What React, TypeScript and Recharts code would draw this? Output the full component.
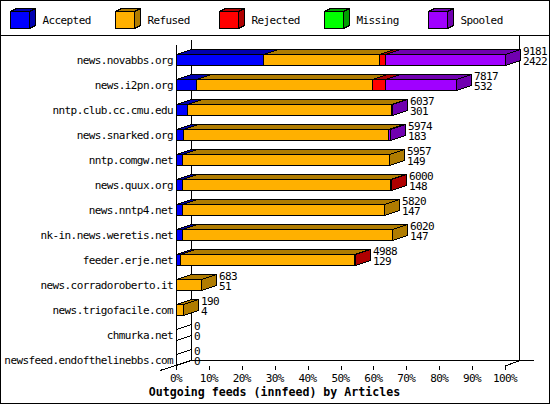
import React from 'react';
import { BarChart, Bar, XAxis, YAxis, LabelList } from 'recharts';

// ---------- data ----------
const hosts = [
  'news.novabbs.org',
  'news.i2pn.org',
  'nntp.club.cc.cmu.edu',
  'news.snarked.org',
  'nntp.comgw.net',
  'news.quux.org',
  'news.nntp4.net',
  'nk-in.news.weretis.net',
  'feeder.erje.net',
  'news.corradoroberto.it',
  'news.trigofacile.com',
  'chmurka.net',
  'newsfeed.endofthelinebbs.com',
];
const acceptedPct = [26.3, 6.0, 3.2, 2.0, 1.7, 1.7, 1.7, 1.7, 1.3, 0, 0, 0, 0];
const refusedPct = [35.5, 53.5, 62.1, 62.3, 63.1, 63.4, 61.6, 64.0, 52.8, 7.6, 2.0, 0, 0];
const rejectedPct = [1.8, 4.1, 0, 0, 0, 0.3, 0, 0, 0.4, 0, 0, 0, 0];
const missingPct = [0, 0, 0, 0, 0, 0, 0, 0, 0, 0, 0, 0, 0];
const spooledPct = [36.4, 21.5, 0.4, 0.7, 0, 0, 0, 0, 0, 0, 0, 0, 0];
const offeredCount = [9181, 7817, 6037, 5974, 5957, 6000, 5820, 6020, 4988, 683, 190, 0, 0];
const acceptedCount = [2422, 532, 301, 183, 149, 148, 147, 147, 129, 51, 4, 0, 0];
const xTicks = [0, 10, 20, 30, 40, 50, 60, 70, 80, 90, 100];
const seriesNames = ['Accepted', 'Refused', 'Rejected', 'Missing', 'Spooled'];
const seriesKeys = ['accepted', 'refused', 'rejected', 'missing', 'spooled'];
const seriesColors = ['#0000ff', '#ffb000', '#ff0000', '#00ff00', '#a000ff'];
const seriesDark = ['#0000b0', '#b07c00', '#b00000', '#00a000', '#7000b0'];
const title = 'Outgoing feeds (innfeed) by Articles';

const data = hosts.map((name, i) => ({
  name,
  accepted: acceptedPct[i],
  refused: refusedPct[i],
  rejected: rejectedPct[i],
  missing: missingPct[i],
  spooled: spooledPct[i],
}));

// ---------- layout constants ----------
const W = 550;
const H = 405;
const PLOT_LEFT = 176;
const PLOT_RIGHT = 505;
const DX = 15;
const DY = 5;
const FLOOR_Y = 366;
const BACK_TOP = 40;
const FONT = "'DejaVu Sans Mono', 'Liberation Mono', monospace";
const LS = -0.6;

const Box3D = (props: any) => {
  const { x, y, width, height, fill, dark, payload, seriesIndex } = props;
  if (x == null || y == null) return null;
  const value = payload ? Number(payload[seriesKeys[seriesIndex]]) || 0 : 0;
  const total = payload ? seriesKeys.reduce((s, k) => s + (Number(payload[k]) || 0), 0) : 0;
  const x0 = Math.round(x) + 0.5;
  const y0 = Math.round(y) + 0.5;
  const y1 = Math.round(y + height) - 0.5;
  if (value <= 0) {
    if (total > 0 || seriesIndex !== 0) return null;
    // empty row: only the outline of the zero-length block
    return (
      <g shapeRendering="crispEdges" stroke="#000" strokeWidth={1} fill="none">
        <line x1={x0} y1={y0} x2={x0 + DX} y2={y0 - DY} />
        <line x1={x0} y1={y1} x2={x0 + DX} y2={y1 - DY} />
      </g>
    );
  }
  const x1 = Math.round(x + Math.max(0, width || 0)) + 0.5;
  return (
    <g shapeRendering="crispEdges">
      <rect x={x0} y={y0} width={x1 - x0} height={y1 - y0} fill={fill} stroke="#000" strokeWidth={1} />
      <polygon
        points={`${x0},${y0} ${x0 + DX},${y0 - DY} ${x1 + DX},${y0 - DY} ${x1},${y0}`}
        fill={dark}
        stroke="#000"
        strokeWidth={1}
      />
      <polygon
        points={`${x1},${y0} ${x1 + DX},${y0 - DY} ${x1 + DX},${y1 - DY} ${x1},${y1}`}
        fill={dark}
        stroke="#000"
        strokeWidth={1}
      />
    </g>
  );
};

const YTick = (props: any) => {
  const { x, y, payload } = props;
  return (
    <text x={x} y={y + 4} textAnchor="end" fontFamily={FONT} fontSize={11} letterSpacing={LS} fill="#000">
      {payload.value}
    </text>
  );
};

const XTick = (props: any) => {
  const { x, payload } = props;
  const xr = Math.round(x) + 0.5;
  return (
    <g>
      <line x1={xr} y1={FLOOR_Y} x2={xr} y2={FLOOR_Y + 4} stroke="#000" shapeRendering="crispEdges" />
      <text x={x} y={FLOOR_Y + 16} textAnchor="middle" fontFamily={FONT} fontSize={11} letterSpacing={LS} fill="#000">
        {`${payload.value}%`}
      </text>
    </g>
  );
};

const EndLabel = (props: any) => {
  const vb = props.viewBox || {};
  const x = props.x != null ? props.x : vb.x;
  const y = props.y != null ? props.y : vb.y;
  const width = props.width != null ? props.width : vb.width;
  const index = props.index;
  if (x == null || y == null || index == null) return null;
  const tx = Math.round(x + (width || 0)) + DX + 3;
  return (
    <g>
      <text x={tx} y={y + 0.5} fontFamily={FONT} fontSize={11} letterSpacing={LS} fill="#000">
        {offeredCount[index]}
      </text>
      <text x={tx} y={y + 11} fontFamily={FONT} fontSize={11} letterSpacing={LS} fill="#000">
        {acceptedCount[index]}
      </text>
    </g>
  );
};

const Frame = () => (
  <g shapeRendering="crispEdges" stroke="#000" strokeWidth={1} fill="none">
    <rect x={0.5} y={0.5} width={549} height={403} />
    <line x1={0} y1={35.5} x2={W} y2={35.5} />
    {/* back walls */}
    <line x1={PLOT_LEFT + DX + 0.5} y1={BACK_TOP} x2={PLOT_LEFT + DX + 0.5} y2={FLOOR_Y - DY} />
    <line x1={PLOT_RIGHT + DX - 0.5} y1={36} x2={PLOT_RIGHT + DX - 0.5} y2={FLOOR_Y - DY} />
    <line x1={PLOT_LEFT + DX} y1={FLOOR_Y - DY - 0.5} x2={PLOT_RIGHT + DX + 14} y2={FLOOR_Y - DY - 0.5} />
    {/* front axis */}
    <line x1={PLOT_LEFT + 0.5} y1={45} x2={PLOT_LEFT + 0.5} y2={FLOOR_Y} />
    {/* floor edges */}
    <line x1={PLOT_LEFT - DX - 1} y1={FLOOR_Y + 4.5} x2={PLOT_LEFT + DX} y2={FLOOR_Y - DY - 0.5} />
    <line x1={PLOT_RIGHT} y1={FLOOR_Y} x2={PLOT_RIGHT + DX} y2={FLOOR_Y - DY - 0.5} />
  </g>
);

const LegendBlock = () => (
  <g>
    {seriesNames.map((n, i) => {
      const bx = Math.round(10 + i * 104.5) + 0.5;
      const by = 11.5;
      const bw = 19;
      const bh = 17;
      const dx = 6;
      const dy = 3;
      return (
        <g key={n}>
          <g shapeRendering="crispEdges" stroke="#000" strokeWidth={1}>
            <rect x={bx} y={by} width={bw} height={bh} fill={seriesColors[i]} />
            <polygon
              points={`${bx},${by} ${bx + dx},${by - dy} ${bx + bw + dx},${by - dy} ${bx + bw},${by}`}
              fill={seriesDark[i]}
            />
            <polygon
              points={`${bx + bw},${by} ${bx + bw + dx},${by - dy} ${bx + bw + dx},${by + bh - dy} ${bx + bw},${by + bh}`}
              fill={seriesDark[i]}
            />
          </g>
          <text x={bx + 32} y={24} fontFamily={FONT} fontSize={11} letterSpacing={LS} fill="#000">
            {n}
          </text>
        </g>
      );
    })}
  </g>
);

export default function App() {
  return (
    <div style={{ position: 'absolute', left: 0, top: 0, width: W, height: H, background: '#fff' }}>
      <BarChart
        width={W}
        height={H}
        data={data}
        layout="vertical"
        margin={{ top: 47, right: 45, bottom: 3, left: 0 }}
        barSize={12}
      >
        <Frame />
        <LegendBlock />
        <XAxis
          type="number"
          domain={[0, 100]}
          ticks={xTicks}
          interval={0}
          axisLine={false}
          tickLine={false}
          tickSize={0}
          tickMargin={0}
          height={30}
          tick={<XTick />}
        />
        <YAxis
          type="category"
          dataKey="name"
          width={176}
          interval={0}
          axisLine={false}
          tickLine={false}
          tickSize={0}
          tickMargin={3}
          tick={<YTick />}
        />
        {seriesKeys.map((k, i) => (
          <Bar
            key={k}
            dataKey={k}
            name={seriesNames[i]}
            stackId="s"
            fill={seriesColors[i]}
            isAnimationActive={false}
            shape={(p: any) => <Box3D {...p} dark={seriesDark[i]} seriesIndex={i} />}
          >
            {i === seriesKeys.length - 1 ? <LabelList dataKey={k} content={<EndLabel />} /> : null}
          </Bar>
        ))}
        <text x={274.5} y={396} textAnchor="middle" fontFamily={FONT} fontSize={11.6} fontWeight="bold" fill="#000">
          {title}
        </text>
      </BarChart>
    </div>
  );
}
